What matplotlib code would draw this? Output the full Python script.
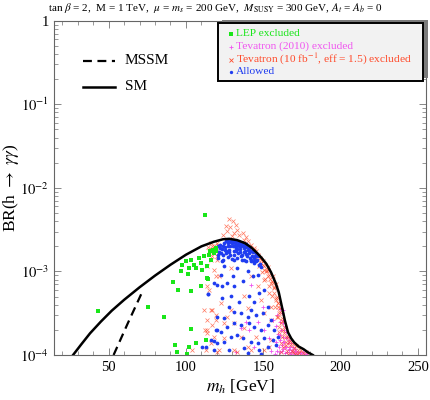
import numpy as np
import matplotlib.pyplot as plt
from matplotlib.patches import Rectangle
from matplotlib.lines import Line2D
from matplotlib.ticker import FixedLocator, FixedFormatter, MultipleLocator

plt.rcParams['font.family'] = ['Liberation Serif', 'DejaVu Serif']
plt.rcParams['mathtext.fontset'] = 'stix'

# SM and MSSM reference curves (m_h in GeV, log10 BR)
sm_m = [27, 32, 38, 45, 52, 60, 70, 80, 90, 100, 110, 118, 124, 128, 133, 138, 142,
        146, 149, 152, 155, 158, 160, 162, 164, 166, 168, 170, 173, 176, 179, 182]
sm_lbr = [-4.0, -3.88, -3.74, -3.60, -3.47, -3.34, -3.19, -3.05, -2.92, -2.80, -2.70,
          -2.645, -2.615, -2.61, -2.625, -2.66, -2.71, -2.78, -2.84, -2.91, -3.01,
          -3.14, -3.25, -3.42, -3.59, -3.73, -3.80, -3.85, -3.90, -3.93, -3.97, -4.0]
mssm_m = [53.2, 62.4, 71.6]
mssm_lbr = [-4.0, -3.62, -3.25]

# LEP excluded points
lep_m = [43.4, 75.3, 86.1, 92.6, 93.9, 102.1, 106.7, 112.7, 100.8, 103.0, 91.8, 94.7,
         103.0, 109.5, 114.2, 96.5, 101.2, 97.6, 99.7, 105.1, 109.5, 111.6, 114.9, 116.0,
         118.1, 113.8, 110.6, 112.3, 113.8, 117.3, 119.2, 106.2, 103.0, 108.2, 101.7,
         115.5, 119.5]
lep_lbr = [-3.47, -3.43, -3.55, -3.88, -3.97, -3.91, -3.86, -3.82, -3.99, -3.69, -3.13,
           -3.22, -3.23, -3.18, -3.09, -3.00, -3.03, -2.92, -2.88, -2.92, -2.90, -2.82,
           -2.80, -2.86, -2.78, -2.94, -2.98, -2.33, -3.08, -2.74, -2.72, -2.96, -2.86,
           -2.84, -2.96, -2.76, -2.76]

# Tevatron (2010) excluded points
tev10_m = [162.0, 163.0, 163.8, 164.5, 165.5, 166.5, 167.8, 169.2, 170.8, 172.5, 174.2,
           176.0, 177.8, 160.5, 161.5, 162.5, 163.5, 165.0, 166.5, 168.0, 170.0, 172.0,
           161.0, 160.0, 162.0, 164.0, 159.5, 158.5, 159.0, 160.5, 142.0, 149.6, 156.0,
           162.5, 162.5, 135.5, 144.1, 132.2, 141.0, 150.6, 155.0, 138.7, 146.3, 153.9,
           163.2, 164.8, 166.0, 167.2, 168.8, 170.5, 173.5, 175.5, 174.0, 178.5, 161.8,
           163.0, 165.5, 167.5, 164.2, 166.3, 169.5, 171.3, 158.0, 159.0, 161.0, 157.5,
           160.8, 162.5]
tev10_lbr = [-3.50, -3.58, -3.65, -3.72, -3.78, -3.82, -3.86, -3.90, -3.93, -3.96, -3.98,
             -3.99, -3.99, -3.60, -3.70, -3.78, -3.85, -3.90, -3.94, -3.97, -3.99, -3.99,
             -3.82, -3.90, -3.95, -3.98, -3.75, -3.65, -3.52, -3.45, -3.16, -3.42, -3.58,
             -3.46, -3.62, -3.68, -3.90, -3.96, -3.70, -3.70, -3.95, -3.60, -3.60, -3.80,
             -3.70, -3.80, -3.86, -3.91, -3.94, -3.96, -3.97, -3.97, -3.995, -3.995, -3.88,
             -3.93, -3.97, -3.99, -3.90, -3.93, -3.97, -3.95, -3.85, -3.95, -3.97, -3.99,
             -3.76, -3.84]

# Tevatron (10 fb^-1) excluded points
tevf_m = [127.9, 130.1, 125.7, 132.2, 133.3, 136.6, 138.7, 126.8, 131.1, 139.8, 142.0,
          144.1, 128.5, 134.5, 124.0, 129.5, 137.5,
          144.1, 146.3, 148.4, 150.6, 152.8, 154.9, 157.1, 159.3, 160.3, 161.4, 163.6,
          166.8, 170.1, 173.3,
          142.5, 145.0, 147.0, 149.2, 151.3, 153.5, 155.5, 157.8, 158.9, 160.0, 162.0,
          165.0, 168.5, 171.5,
          145.6, 147.9, 150.0, 152.3, 154.6, 156.8, 159.0, 160.9, 162.0, 163.3, 166.0,
          168.9, 172.3, 175.5,
          148.8, 150.5, 152.0, 153.7, 155.5, 157.0, 158.5, 159.8, 160.8, 161.8, 163.0,
          164.5, 167.0, 171.0, 174.5, 177.5, 144.0, 146.5, 150.0, 153.0, 156.0, 158.0,
          117.1, 118.2, 116.0, 120.3, 113.8, 119.2, 114.9, 122.5, 117.1, 124.7, 113.8,
          112.7, 131.2, 135.5, 142.0, 145.2, 148.5, 150.6, 153.9, 155.0, 158.2, 159.3,
          146.3, 137.6, 129.0, 142.0, 152.8, 156.0, 160.4, 161.5, 153.9, 161.5,
          119.2, 117.1, 120.3, 118.2, 121.4, 116.0, 119.2, 112.1, 118.2, 121.4, 104.1,
          113.4, 114.0, 116.0, 117.9, 119.9, 116.5, 118.8, 121.0, 115.0,
          111.7, 113.8, 117.1, 119.3, 126.8, 129.0, 131.1, 137.7, 139.8, 150.6, 155.0,
          159.3, 155.0, 150.6, 139.8, 133.3, 120.3, 116.0, 113.8, 124.7,
          163.0, 165.5, 167.5, 169.0, 164.5, 170.5, 166.0]
tevf_lbr = [-2.37, -2.40, -2.46, -2.44, -2.50, -2.54, -2.59, -2.52, -2.54, -2.64, -2.68,
            -2.72, -2.47, -2.56, -2.56, -2.58, -2.62,
            -2.74, -2.82, -2.90, -2.98, -3.06, -3.14, -3.26, -3.38, -3.50, -3.62, -3.74,
            -3.84, -3.92, -3.98,
            -2.76, -2.84, -2.93, -3.01, -3.09, -3.18, -3.30, -3.42, -3.54, -3.66, -3.78,
            -3.88, -3.95, -3.99,
            -2.76, -2.84, -2.92, -3.00, -3.09, -3.19, -3.31, -3.44, -3.56, -3.67, -3.79,
            -3.87, -3.94, -3.98,
            -2.86, -2.93, -2.99, -3.04, -3.12, -3.20, -3.32, -3.38, -3.48, -3.59, -3.70,
            -3.78, -3.83, -3.89, -3.94, -3.97, -2.77, -2.80, -2.88, -2.95, -3.06, -3.15,
            -2.70, -2.78, -2.86, -2.82, -2.94, -3.06, -3.22, -3.38, -3.46, -3.62, -3.70,
            -3.94, -3.94, -3.78, -3.94, -3.78, -3.34, -3.10, -3.26, -3.42, -3.34, -3.54,
            -3.18, -3.30, -2.96, -3.06, -2.98, -3.14, -3.72, -3.86, -3.90, -3.96,
            -2.76, -2.82, -2.86, -2.98, -3.06, -3.46, -3.58, -3.70, -3.78, -3.94, -3.94,
            -3.18, -2.71, -2.66, -2.69, -2.66, -2.73, -2.75, -2.68, -2.76,
            -3.46, -3.58, -3.64, -3.52, -3.54, -3.46, -3.62, -3.68, -3.44, -3.50, -3.58,
            -3.42, -3.82, -3.94, -3.90, -3.96, -3.96, -3.86, -3.74, -3.80,
            -3.90, -3.95, -3.88, -3.97, -3.84, -3.99, -3.99]

# Allowed points
ok_m = [123.6, 124.7, 131.2, 135.5, 137.6, 142.0, 144.1, 133.3, 130.1, 126.8, 122.5,
        118.2, 139.8, 143.1, 146.3, 136.6, 131.2, 123.6, 114.3, 123.6, 129.0, 134.4,
        140.9, 144.1, 147.4, 150.6, 152.8, 149.6, 145.2, 142.0, 139.8, 135.5, 131.2,
        127.9, 124.7, 120.3, 119.2, 122.5, 126.8, 131.2, 135.5, 140.9, 144.1, 148.5,
        152.8, 155.0, 157.1, 159.3, 156.0, 150.6, 146.3, 142.0, 136.6, 133.3, 129.0,
        124.7, 120.3, 116.0, 112.7, 118.2, 127.9, 137.6, 147.4, 152.8, 158.2, 148.5,
        139.8, 114.2, 110.6, 118.1, 120.3, 119.9,
        119.5, 120.5, 121.5, 122.3, 123.0, 123.8, 124.5, 125.2, 125.9, 126.6, 127.3,
        128.0, 128.7, 129.4, 130.1, 130.8, 131.5, 132.2, 133.0, 133.7, 134.4, 135.1,
        135.8, 136.5, 137.2, 138.0, 138.7, 139.4, 140.1, 140.8, 141.5, 142.2, 143.0,
        143.8, 144.6, 145.4, 146.2, 147.0, 147.8, 148.5, 121.0, 124.0, 127.0, 130.0,
        133.0, 136.0, 139.0, 126.0, 129.0, 132.0, 135.0, 131.0, 137.5, 141.5, 120.5,
        122.0, 124.0, 125.5, 127.0, 128.5, 130.0, 131.5, 133.0, 134.5, 136.0, 137.5,
        139.0, 140.5, 142.0, 143.5, 145.0, 146.5, 128.0, 132.5, 135.0, 139.0, 126.0,
        122.5, 144.0, 130.5, 133.5, 136.8, 138.5, 127.5]
ok_lbr = [-2.88, -2.94, -2.86, -2.82, -2.86, -2.88, -2.90, -2.96, -3.06, -3.14, -3.04,
          -3.14, -3.00, -3.06, -3.04, -3.12, -3.18, -3.18, -3.27, -3.32, -3.30, -3.36,
          -3.30, -3.36, -3.26, -3.22, -3.42, -3.50, -3.52, -3.46, -3.54, -3.50, -3.48,
          -3.42, -3.56, -3.54, -3.70, -3.72, -3.66, -3.62, -3.64, -3.62, -3.66, -3.70,
          -3.64, -3.58, -3.70, -3.78, -3.82, -3.80, -3.86, -3.84, -3.80, -3.76, -3.78,
          -3.84, -3.86, -3.82, -3.90, -3.94, -3.94, -3.92, -3.94, -3.90, -3.88, -3.99,
          -3.98, -3.27, -3.91, -3.83, -3.70, -3.16,
          -2.74, -2.70, -2.77, -2.68, -2.73, -2.80, -2.66, -2.71, -2.76, -2.64, -2.69,
          -2.74, -2.80, -2.65, -2.70, -2.76, -2.66, -2.72, -2.68, -2.78, -2.67, -2.73,
          -2.69, -2.80, -2.70, -2.75, -2.71, -2.82, -2.74, -2.78, -2.76, -2.86, -2.81,
          -2.84, -2.82, -2.88, -2.86, -2.92, -2.91, -2.95, -2.84, -2.86, -2.83, -2.85,
          -2.84, -2.86, -2.88, -2.63, -2.63, -2.64, -2.66, -2.80, -2.77, -2.84, -2.80,
          -2.72, -2.69, -2.74, -2.66, -2.70, -2.66, -2.70, -2.73, -2.70, -2.68, -2.72,
          -2.69, -2.72, -2.76, -2.77, -2.79, -2.82, -2.77, -2.76, -2.77, -2.79, -2.78,
          -2.78, -2.87, -2.63, -2.645, -2.655, -2.675, -2.63]

ytick_vals = [1e-4, 1e-3, 1e-2, 1e-1, 1]
ytick_text = ['$10^{-4}$', '$10^{-3}$', '$10^{-2}$', '$10^{-1}$', '1']
xtick_vals = [50, 100, 150, 200, 250]

W, H = 431, 400
fig = plt.figure(figsize=(W / 100, H / 100), dpi=100)
ax = fig.add_axes([54.5 / W, 45 / H, (425.7 - 54.5) / W, (355 - 20.7) / H])

c_lep = '#19e619'
c_t10 = '#f055f0'
c_tf = '#ff4a2a'
c_ok = '#1f3cf0'

ax.plot(tev10_m, 10 ** np.array(tev10_lbr), '+', color=c_t10, ms=3.2, mew=0.6)
ax.plot(tevf_m, 10 ** np.array(tevf_lbr), 'x', color=c_tf, ms=2.6, mew=0.5, alpha=0.75)
ax.plot(ok_m, 10 ** np.array(ok_lbr), 'o', color=c_ok, ms=2.7, mew=0)
ax.plot(lep_m, 10 ** np.array(lep_lbr), 's', color=c_lep, ms=2.4, mew=0)
ax.plot(sm_m, 10 ** np.array(sm_lbr), '-', color='black', lw=1.8)
ax.plot(mssm_m, 10 ** np.array(mssm_lbr), '--', color='black', lw=1.6, dashes=(4, 2.5))

ax.set_yscale('log')
ax.set_xlim(15, 255)
ax.set_ylim(1e-4, 1)
ax.yaxis.set_major_locator(FixedLocator(ytick_vals))
ax.yaxis.set_major_formatter(FixedFormatter(ytick_text))
ax.xaxis.set_major_locator(FixedLocator(xtick_vals))
ax.xaxis.set_minor_locator(MultipleLocator(10))
for sp in ax.spines.values():
    sp.set_color('#666666')
    sp.set_linewidth(0.8)
ax.tick_params(which='both', direction='in', top=True, right=True, color='#888888',
               labelsize=10.5, pad=4)
ax.tick_params(which='major', length=5, width=0.7)
ax.tick_params(which='minor', length=2.8, width=0.6)

ax.set_xlabel('$m_h$ [GeV]', fontsize=12.5)
ax.xaxis.set_label_coords(0.5, -0.068)
ax.set_ylabel(r'BR(h $\rightarrow$ $\gamma\gamma$)', fontsize=12.5)
ax.yaxis.set_label_coords(-0.09, 0.5)
fig.text(0.5, 1 - 8 / H,
         r'tan $\beta$ = 2,  M = 1 TeV,  $\mu$ = $m_s$ = 200 GeV,  $M_{\rm SUSY}$ = 300 GeV, $A_t$ = $A_b$ = 0',
         ha='center', va='center', fontsize=8)


def fx(x):
    return x / W


def fy(y):
    return 1 - y / H


# legend box with shadow
fig.patches.append(Rectangle((fx(222), fy(78)), fx(428) - fx(222), fy(20) - fy(78),
                             transform=fig.transFigure, facecolor='#7a7a7a',
                             edgecolor='none', zorder=3))
fig.patches.append(Rectangle((fx(218), fy(81)), fx(423) - fx(218), fy(23) - fy(81),
                             transform=fig.transFigure, facecolor='#f2f2f2',
                             edgecolor='black', lw=1.4, zorder=4))
leg_rows = [
    ('s', c_lep, 'LEP excluded', 33.5, 2.4),
    ('+', c_t10, 'Tevatron (2010) excluded', 46.5, 3.2),
    ('x', c_tf, r'Tevatron (10 fb$^{-1}$, eff = 1.5) excluded', 59.5, 2.6),
    ('o', c_ok, 'Allowed', 71.5, 2.4),
]
for mk, col, label, yy, ms in leg_rows:
    fig.lines.append(Line2D([fx(231)], [fy(yy)], marker=mk, color=col, ms=ms,
                            mew=0.6 if mk in '+x' else 0, linestyle='none',
                            transform=fig.transFigure, zorder=5))
    fig.text(fx(236), fy(yy), label, color=col, fontsize=8.2, va='center', ha='left',
             zorder=6)

# line-style legend
fig.lines.append(Line2D([fx(83), fx(115)], [fy(61), fy(61)], color='black', lw=1.6,
                        dashes=(4, 2.5), transform=fig.transFigure))
fig.lines.append(Line2D([fx(83), fx(115)], [fy(87), fy(87)], color='black', lw=1.8,
                        transform=fig.transFigure))
fig.text(fx(125), fy(61), 'MSSM', fontsize=11, va='center', ha='left')
fig.text(fx(125), fy(87), 'SM', fontsize=11, va='center', ha='left')

fig.savefig('out.png', dpi=100)
